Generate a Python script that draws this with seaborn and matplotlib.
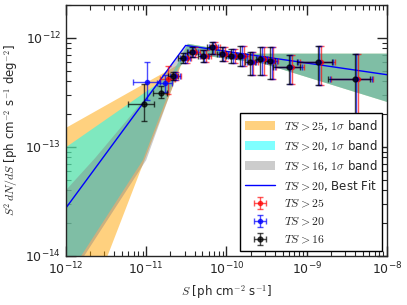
import numpy as np
import seaborn as sns
import matplotlib
matplotlib.use('Agg')
import matplotlib.pyplot as plt

sns.set_style('ticks')
plt.rcParams['font.family'] = ['DejaVu Sans']
plt.rcParams['mathtext.fontset'] = 'cm'

# source count points, TS > 16 (flux bins and S^2 dN/dS)
flux = [9.4e-12, 1.53e-11, 2.16e-11, 2.90e-11, 3.68e-11, 5.05e-11, 6.54e-11, 8.72e-11,
        1.15e-10, 1.49e-10, 1.96e-10, 2.64e-10, 3.48e-10, 5.96e-10, 1.37e-9, 3.94e-9]
flux_lo = [5.97e-12, 1.23e-11, 1.88e-11, 2.52e-11, 3.2e-11, 4.4e-11, 5.7e-11, 7.6e-11,
           1.0e-10, 1.3e-10, 1.7e-10, 2.3e-10, 3.0e-10, 3.8e-10, 7.5e-10, 1.83e-9]
flux_hi = [1.25e-11, 1.8e-11, 2.48e-11, 3.33e-11, 4.2e-11, 5.8e-11, 7.5e-11, 1.0e-10,
           1.32e-10, 1.71e-10, 2.25e-10, 3.03e-10, 4.0e-10, 8.3e-10, 2.04e-9, 6.15e-9]
dnds16 = [2.45e-13, 3.13e-13, 4.49e-13, 6.50e-13, 7.38e-13, 6.79e-13, 8.20e-13, 7.11e-13,
          6.84e-13, 6.75e-13, 5.94e-13, 6.33e-13, 6.11e-13, 5.35e-13, 5.98e-13, 4.15e-13]
dnds16_lo = [1.73e-13, 2.82e-13, 4.13e-13, 5.86e-13, 6.65e-13, 5.98e-13, 7.14e-13, 6.14e-13,
             5.90e-13, 5.46e-13, 4.52e-13, 4.52e-13, 4.22e-13, 3.80e-13, 3.72e-13, 1.5e-13]
dnds16_hi = [3.80e-13, 3.58e-13, 4.89e-13, 7.23e-13, 8.20e-13, 7.70e-13, 9.12e-13, 8.24e-13,
             7.93e-13, 8.32e-13, 7.38e-13, 8.20e-13, 8.20e-13, 6.89e-13, 8.32e-13, 7.03e-13]

# TS > 20: first two bins differ
flux20 = [9.66e-12, 1.63e-11] + flux[2:]
flux20_lo = [6.6e-12, 1.28e-11] + flux_lo[2:]
flux20_hi = [1.41e-11, 1.98e-11] + flux_hi[2:]
dnds20 = [3.90e-13, 3.84e-13] + dnds16[2:]
dnds20_lo = [2.67e-13, 3.16e-13] + dnds16_lo[2:]
dnds20_hi = [5.98e-13, 4.52e-13] + dnds16_hi[2:]

# TS > 25: no first bin
flux25 = [1.68e-11] + flux[2:]
flux25_lo = [1.35e-11] + flux_lo[2:]
flux25_hi = [2.05e-11] + flux_hi[2:]
dnds25 = [4.22e-13] + dnds16[2:]
dnds25_lo = [3.07e-13] + dnds16_lo[2:]
dnds25_hi = [5.50e-13] + dnds16_hi[2:]

# best fit broken power law (TS > 20)
fit_flux = [1e-12, 3.1e-11, 1e-8]
fit_dnds = [2.75e-14, 8.5e-13, 4.58e-13]

# 1 sigma bands: upper edge (left->right) and lower edge (right->left)
common_up_s = [3.3e-11, 7e-11, 1.5e-10, 1e-8]
common_up_v = [8.8e-13, 8.0e-13, 7.14e-13, 7.14e-13]
common_lo_s = [1e-8, 2.9e-10, 3.7e-11]
common_lo_v = [2.58e-13, 5.78e-13, 7.1e-13]

band25_up_s = [1e-12, 2.42e-11]
band25_up_v = [1.49e-13, 5.58e-13]
band25_lo_s = [2.72e-11, 3.3e-12]
band25_lo_v = [5.58e-13, 1e-14]

band20_up_s = [1e-12, 2.10e-11]
band20_up_v = [9.9e-14, 4.69e-13]
band20_lo_s = [2.49e-11, 9.1e-12, 1.55e-12]
band20_lo_v = [5.24e-13, 7.55e-14, 1e-14]

band16_up_s = [1e-12, 2.3e-12, 6.3e-12, 2.4e-11]
band16_up_v = [4.0e-14, 7.86e-14, 1.9e-13, 6.4e-13]
band16_lo_s = [2.64e-11, 1.0e-11, 1.69e-12]
band16_lo_v = [5.46e-13, 7.55e-14, 1e-14]


def band(ax, up_s, up_v, lo_s, lo_v, color, alpha, label):
    xs = up_s + common_up_s + common_lo_s + lo_s + [lo_s[-1], up_s[0]]
    ys = up_v + common_up_v + common_lo_v + lo_v + [1e-16, 1e-16]
    ax.fill(xs, ys, color=color, alpha=alpha, lw=0, label=label)


fig, ax = plt.subplots(figsize=(4.07, 3.05), dpi=100)
fig.subplots_adjust(left=0.162, right=0.951, top=0.984, bottom=0.161)

band(ax, band25_up_s, band25_up_v, band25_lo_s, band25_lo_v,
     'orange', 0.5, r'$TS>25$, $1\sigma$ band')
band(ax, band20_up_s, band20_up_v, band20_lo_s, band20_lo_v,
     'cyan', 0.5, r'$TS>20$, $1\sigma$ band')
band(ax, band16_up_s, band16_up_v, band16_lo_s, band16_lo_v,
     'gray', 0.4, r'$TS>16$, $1\sigma$ band')

sns.lineplot(x=fit_flux, y=fit_dnds, ax=ax, color='blue', lw=1,
             label=r'$TS>20$, Best Fit')


def points(x, xlo, xhi, y, ylo, yhi, shift, color, alpha, label, ms):
    x = np.array(x) * shift
    xerr = [x - np.array(xlo) * shift, np.array(xhi) * shift - x]
    yerr = [np.array(y) - np.array(ylo), np.array(yhi) - np.array(y)]
    ax.errorbar(x, y, xerr=xerr, yerr=yerr, fmt='o', color=color, ms=ms,
                elinewidth=1, capsize=2, capthick=1, alpha=alpha, label=label)


points(flux25, flux25_lo, flux25_hi, dnds25, dnds25_lo, dnds25_hi, 1.10,
       'red', 0.65, r'$TS>25$', 3)
points(flux20, flux20_lo, flux20_hi, dnds20, dnds20_lo, dnds20_hi, 1.05,
       'blue', 0.7, r'$TS>20$', 3)
points(flux, flux_lo, flux_hi, dnds16, dnds16_lo, dnds16_hi, 1.0,
       'black', 0.7, r'$TS>16$', 3.5)

ax.set_xscale('log')
ax.set_yscale('log')
ax.set_xlim(1e-12, 1e-8)
ax.set_ylim(1e-14, 2e-12)
ax.tick_params(which='both', direction='in', top=True, right=True, labelsize=9)
ax.tick_params(which='major', length=7, width=1)
ax.tick_params(which='minor', length=3.5, width=0.8)
for s in ax.spines.values():
    s.set_linewidth(1)

ax.set_xlabel(r'$S$ [ph cm$^{-2}$ s$^{-1}$]', fontsize=8.5)
ax.set_ylabel(r'$S^2\,dN/dS$ [ph cm$^{-2}$ s$^{-1}$ deg$^{-2}$]', fontsize=8.5)

ax.legend(loc='lower right', fontsize=8.5, handlelength=2.5, frameon=True,
          fancybox=False, edgecolor='black', framealpha=1, borderaxespad=0.4,
          labelspacing=0.42)

plt.savefig('out.png', dpi=100)
